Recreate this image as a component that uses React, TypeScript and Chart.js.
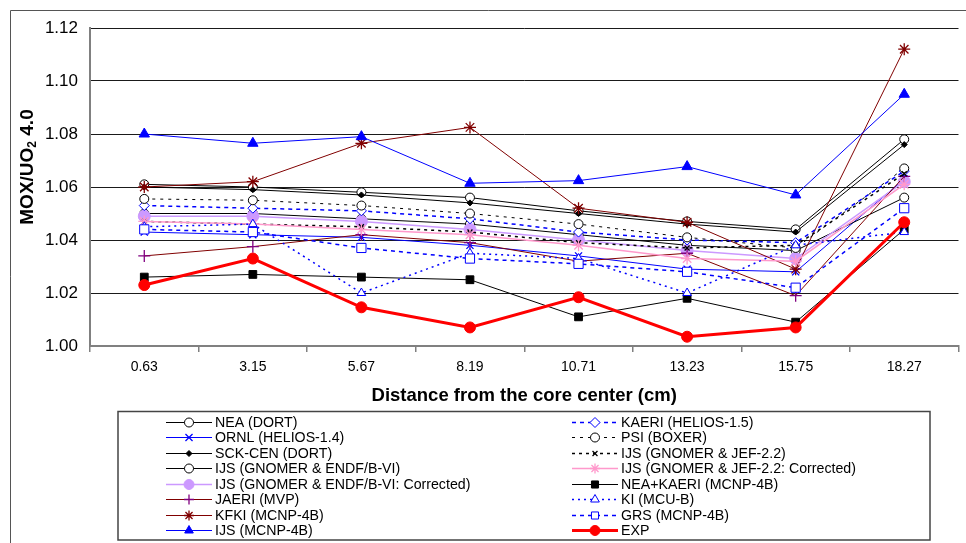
import React, { useEffect, useRef } from 'react';
import { Chart, registerables } from 'chart.js';
import { drawPoint } from 'chart.js/helpers';

Chart.register(...registerables);

const categories = ['0.63', '3.15', '5.67', '8.19', '10.71', '13.23', '15.75', '18.27'];

const neaDort = [1.061, 1.060, 1.058, 1.056, 1.051, 1.047, 1.044, 1.078];
const ornlHelios14 = [1.043, 1.042, 1.041, 1.038, 1.034, 1.029, 1.028, 1.063];
const sckcenDort = [1.060, 1.059, 1.057, 1.054, 1.050, 1.046, 1.043, 1.076];
const ijsGnomerEndf = [1.050, 1.050, 1.048, 1.046, 1.042, 1.038, 1.036, 1.056];
const ijsGnomerEndfCorr = [1.049, 1.049, 1.047, 1.044, 1.040, 1.036, 1.033, 1.062];
const jaeriMvp = [1.034, 1.0375, 1.042, 1.039, 1.032, 1.035, 1.019, 1.064];
const kfkiMcnp = [1.060, 1.062, 1.0765, 1.0825, 1.052, 1.0467, 1.029, 1.112];
const ijsMcnp = [1.080, 1.0765, 1.079, 1.0614, 1.0624, 1.0677, 1.057, 1.095];
const kaeriHelios15 = [1.053, 1.052, 1.051, 1.048, 1.043, 1.040, 1.039, 1.066];
const psiBoxer = [1.0555, 1.055, 1.053, 1.050, 1.046, 1.041, 1.037, 1.067];
const ijsGnomerJef = [1.047, 1.046, 1.045, 1.043, 1.039, 1.037, 1.038, 1.065];
const ijsGnomerJefCorr = [1.047, 1.046, 1.044, 1.042, 1.038, 1.033, 1.032, 1.061];
const neaKaeriMcnp = [1.026, 1.027, 1.026, 1.025, 1.011, 1.018, 1.009, 1.044];
const kiMcuB = [1.045, 1.046, 1.020, 1.035, 1.033, 1.020, 1.038, 1.043];
const grsMcnp = [1.044, 1.043, 1.037, 1.033, 1.031, 1.028, 1.022, 1.052];
const expData = [1.023, 1.033, 1.0146, 1.007, 1.0184, 1.0035, 1.007, 1.0467];

const FONT = '"Liberation Sans", Arial, sans-serif';

type S = {
  label: string; data: number[]; color: string; width: number; dash: number[];
  style: string; radius: number; fill: string; stroke: string;
};

const series: S[] = [
  { label: 'NEA (DORT)', data: neaDort, color: '#000000', width: 1, dash: [], style: 'circle', radius: 4.5, fill: '#ffffff', stroke: '#000000' },
  { label: 'ORNL (HELIOS-1.4)', data: ornlHelios14, color: '#0000ff', width: 1, dash: [], style: 'crossRot', radius: 5, fill: '#0000ff', stroke: '#0000ff' },
  { label: 'SCK-CEN (DORT)', data: sckcenDort, color: '#000000', width: 1, dash: [], style: 'rectRot', radius: 3, fill: '#000000', stroke: '#000000' },
  { label: 'IJS (GNOMER & ENDF/B-VI)', data: ijsGnomerEndf, color: '#000000', width: 1, dash: [], style: 'circle', radius: 4.5, fill: '#ffffff', stroke: '#000000' },
  { label: 'IJS (GNOMER & ENDF/B-VI: Corrected)', data: ijsGnomerEndfCorr, color: '#cc99ff', width: 1.5, dash: [], style: 'circle', radius: 6, fill: '#cc99ff', stroke: '#cc99ff' },
  { label: 'JAERI (MVP)', data: jaeriMvp, color: '#800000', width: 1, dash: [], style: 'cross', radius: 6, fill: '#800080', stroke: '#800080' },
  { label: 'KFKI (MCNP-4B)', data: kfkiMcnp, color: '#800000', width: 1, dash: [], style: 'star', radius: 6, fill: '#800000', stroke: '#800000' },
  { label: 'IJS (MCNP-4B)', data: ijsMcnp, color: '#0000ff', width: 1, dash: [], style: 'triangle', radius: 6, fill: '#0000ff', stroke: '#0000ff' },
  { label: 'KAERI (HELIOS-1.5)', data: kaeriHelios15, color: '#0000ff', width: 1.5, dash: [4, 4], style: 'rectRot', radius: 5, fill: '#ffffff', stroke: '#0000ff' },
  { label: 'PSI (BOXER)', data: psiBoxer, color: '#000000', width: 1, dash: [3, 5], style: 'circle', radius: 4.5, fill: '#ffffff', stroke: '#000000' },
  { label: 'IJS (GNOMER & JEF-2.2)', data: ijsGnomerJef, color: '#000000', width: 1.5, dash: [3, 4], style: 'crossRot', radius: 3.5, fill: '#000000', stroke: '#000000' },
  { label: 'IJS (GNOMER & JEF-2.2: Corrected)', data: ijsGnomerJefCorr, color: '#ff99cc', width: 1.5, dash: [], style: 'star', radius: 6, fill: '#ff99cc', stroke: '#ff99cc' },
  { label: 'NEA+KAERI (MCNP-4B)', data: neaKaeriMcnp, color: '#000000', width: 1, dash: [], style: 'rect', radius: 5.5, fill: '#000000', stroke: '#000000' },
  { label: 'KI (MCU-B)', data: kiMcuB, color: '#0000ff', width: 1.5, dash: [2, 4], style: 'triangle', radius: 5, fill: '#ffffff', stroke: '#0000ff' },
  { label: 'GRS (MCNP-4B)', data: grsMcnp, color: '#0000ff', width: 1.5, dash: [4, 4], style: 'rect', radius: 6.5, fill: '#ffffff', stroke: '#0000ff' },
  { label: 'EXP', data: expData, color: '#ff0000', width: 3, dash: [], style: 'circle', radius: 5.5, fill: '#ff0000', stroke: '#ff0000' },
];

const decorPlugin = {
  id: 'decor',
  beforeDraw(chart: any) {
    const ctx = chart.ctx;
    ctx.save();
    ctx.strokeStyle = '#555555';
    ctx.lineWidth = 1;
    ctx.beginPath();
    ctx.moveTo(10.5, 543);
    ctx.lineTo(10.5, 10.5);
    ctx.lineTo(966, 10.5);
    ctx.stroke();
    ctx.restore();
  },
  afterDraw(chart: any) {
    const ctx = chart.ctx;
    ctx.save();
    // y axis title with subscript
    ctx.translate(28, 167);
    ctx.rotate(-Math.PI / 2);
    ctx.fillStyle = '#000';
    ctx.textBaseline = 'middle';
    const big = 'bold 19px ' + FONT;
    const small = 'bold 12px ' + FONT;
    ctx.font = big;
    const w1 = ctx.measureText('MOX/UO').width;
    const w3 = ctx.measureText(' 4.0').width;
    ctx.font = small;
    const w2 = ctx.measureText('2').width;
    let x = -(w1 + w2 + w3) / 2;
    ctx.font = big;
    ctx.textAlign = 'left';
    ctx.fillText('MOX/UO', x, 0);
    x += w1;
    ctx.font = small;
    ctx.fillText('2', x, 5);
    x += w2;
    ctx.font = big;
    ctx.fillText(' 4.0', x, 0);
    ctx.restore();

    // legend box
    ctx.save();
    ctx.strokeStyle = '#444444';
    ctx.lineWidth = 1.5;
    ctx.strokeRect(118, 411.5, 812, 128.5);
    ctx.font = '14.2px ' + FONT;
    ctx.textBaseline = 'middle';
    ctx.textAlign = 'left';
    chart.data.datasets.forEach((ds: any, i: number) => {
      const col = Math.floor(i / 8);
      const row = i % 8;
      const y = Math.round(421.5 + row * 15.5) + 0.5;
      const x0 = col === 0 ? 166 : 572;
      const x1 = col === 0 ? 212 : 618;
      const mx = (x0 + x1) / 2;
      ctx.save();
      ctx.strokeStyle = ds.borderColor;
      ctx.lineWidth = ds.borderWidth;
      ctx.setLineDash(ds.borderDash || []);
      ctx.beginPath();
      ctx.moveTo(x0, y);
      ctx.lineTo(x1, y);
      ctx.stroke();
      ctx.setLineDash([]);
      ctx.fillStyle = ds.pointBackgroundColor;
      ctx.strokeStyle = ds.pointBorderColor;
      ctx.lineWidth = ds.pointBorderWidth;
      drawPoint(ctx, { pointStyle: ds.pointStyle, radius: Math.min(ds.pointRadius, 5), borderWidth: ds.pointBorderWidth, rotation: 0 }, mx, y);
      ctx.restore();
      ctx.fillStyle = '#000';
      ctx.fillText(ds.label, x1 + 3, y + 0.5);
    });
    ctx.restore();
  },
};

export default function App() {
  const ref = useRef<HTMLCanvasElement | null>(null);
  useEffect(() => {
    if (!ref.current) return;
    Chart.defaults.font.family = FONT;
    const chart = new Chart(ref.current, {
      type: 'line',
      data: {
        labels: categories,
        datasets: series.map((s, i) => ({
          label: s.label,
          data: s.data,
          borderColor: s.color,
          borderWidth: s.width,
          borderDash: s.dash,
          pointStyle: s.style as any,
          pointRadius: s.radius,
          pointHoverRadius: s.radius,
          pointBackgroundColor: s.fill,
          pointBorderColor: s.stroke,
          pointBorderWidth: s.style === 'cross' || s.style === 'star' || s.style === 'crossRot' ? 1.3 : 1,
          tension: 0,
          fill: false,
          order: series.length - i,
        })),
      },
      options: {
        animation: false,
        responsive: false,
        maintainAspectRatio: false,
        layout: { padding: { top: 28, left: 0, right: 0, bottom: 133 } },
        plugins: { legend: { display: false }, tooltip: { enabled: false }, title: { display: false } },
        scales: {
          x: {
            type: 'category',
            offset: true,
            grid: { offset: true, drawOnChartArea: false, drawTicks: true, tickLength: 6, color: '#808080', lineWidth: 1.5 },
            border: { display: true, color: '#808080', width: 2 },
            ticks: { color: '#000', font: { size: 14, family: FONT }, padding: 7, maxRotation: 0, autoSkip: false },
            title: { display: true, text: 'Distance from the core center (cm)', color: '#000', font: { size: 18.5, weight: 'bold', family: FONT }, padding: { top: 0, bottom: 3 } },
            afterFit(scale: any) { scale.height = 64; },
          },
          y: {
            min: 1.0,
            max: 1.12,
            grid: { color: '#1a1a1a', lineWidth: 1, drawTicks: false },
            border: { display: true, color: '#808080', width: 2 },
            ticks: { stepSize: 0.02, color: '#000', font: { size: 17, family: FONT }, padding: 12, callback: (v: any) => Number(v).toFixed(2) },
            afterFit(scale: any) { scale.width = 90; },
          },
        },
      },
      plugins: [decorPlugin],
    });
    return () => chart.destroy();
  }, []);
  return (
    <div style={{ position: 'absolute', left: 0, top: 0, width: 966, height: 543, background: '#fff' }}>
      <canvas ref={ref} width={966} height={543} style={{ display: 'block', width: 966, height: 543 }} />
    </div>
  );
}
